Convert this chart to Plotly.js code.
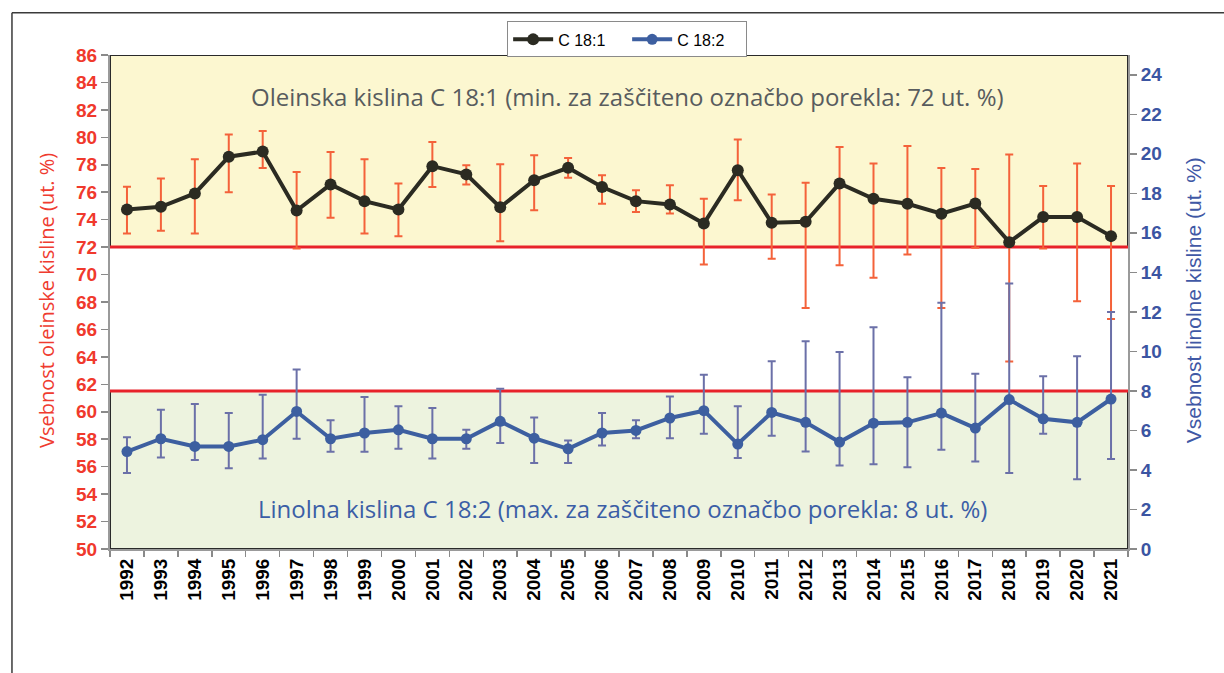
<!DOCTYPE html>
<html>
<head>
<meta charset="utf-8">
<script src="https://cdn.plot.ly/plotly-3.0.1.min.js"></script>
<style>html,body{margin:0;padding:0;background:#fff;}#chart{width:1224px;height:673px;}</style>
</head>
<body>
<div id="chart"></div>
<script>
const years = ['1992','1993','1994','1995','1996','1997','1998','1999','2000','2001','2002','2003','2004','2005','2006','2007','2008','2009','2010','2011','2012','2013','2014','2015','2016','2017','2018','2019','2020','2021'];

const c181 = [74.74, 74.94, 75.91, 78.59, 78.96, 74.67, 76.57, 75.35, 74.74, 77.9, 77.3, 74.9, 76.88, 77.78, 76.38, 75.35, 75.1, 73.72, 77.6, 73.77, 73.85, 76.64, 75.52, 75.16, 74.43, 75.18, 72.36, 74.19, 74.19, 72.8];
const c181Max = [76.4, 77.0, 78.4, 80.2, 80.46, 77.47, 78.93, 78.4, 76.64, 79.66, 77.96, 78.03, 78.69, 78.49, 77.23, 76.15, 76.5, 75.52, 79.85, 75.84, 76.69, 79.3, 78.1, 79.37, 77.76, 77.69, 78.74, 76.45, 78.1, 76.45];
const c181Min = [72.99, 73.2, 73.0, 76.0, 77.76, 71.9, 74.14, 73.0, 72.8, 76.38, 76.57, 72.43, 74.69, 77.06, 75.16, 74.55, 74.45, 70.73, 75.42, 71.15, 67.57, 70.68, 69.76, 71.46, 67.57, 71.95, 63.67, 71.9, 68.05, 66.77];

const c182 = [4.93, 5.58, 5.19, 5.19, 5.53, 6.96, 5.58, 5.87, 6.03, 5.58, 5.58, 6.46, 5.61, 5.07, 5.87, 6.0, 6.63, 7.0, 5.31, 6.91, 6.41, 5.41, 6.37, 6.41, 6.88, 6.12, 7.56, 6.59, 6.41, 7.59];
const c182Max = [5.66, 7.05, 7.34, 6.88, 7.81, 9.08, 6.51, 7.69, 7.22, 7.13, 6.03, 8.11, 6.66, 5.49, 6.88, 6.51, 7.72, 8.82, 7.22, 9.5, 10.51, 9.97, 11.22, 8.69, 12.46, 8.87, 13.44, 8.74, 9.75, 12.0];
const c182Min = [3.84, 4.63, 4.51, 4.09, 4.58, 5.58, 4.92, 4.92, 5.07, 4.58, 5.07, 5.36, 4.35, 4.35, 5.24, 5.61, 5.61, 5.83, 4.6, 5.73, 4.93, 4.22, 4.29, 4.14, 5.02, 4.43, 3.84, 5.83, 3.53, 4.56];

const oleicLimit = 72;
const linoleicLimit = 8;
const leftTicks = [50,52,54,56,58,60,62,64,66,68,70,72,74,76,78,80,82,84,86];
const rightTicks = [0,2,4,6,8,10,12,14,16,18,20,22,24];

const upper = (hi, m) => hi.map((v, i) => +(v - m[i]).toFixed(3));
const lower = (lo, m) => lo.map((v, i) => +(m[i] - v).toFixed(3));

const traces = [
  {
    x: years, y: c181, name: 'C 18:1', type: 'scatter', mode: 'lines+markers',
    yaxis: 'y',
    line: {color: '#2b2b22', width: 4},
    marker: {color: '#2b2b22', size: 12},
    error_y: {type: 'data', symmetric: false, array: upper(c181Max, c181), arrayminus: lower(c181Min, c181),
              color: '#F4623A', thickness: 2, width: 4}
  },
  {
    x: years, y: c182, name: 'C 18:2', type: 'scatter', mode: 'lines+markers',
    yaxis: 'y2',
    line: {color: '#3d5fa0', width: 4},
    marker: {color: '#3d5fa0', size: 11},
    error_y: {type: 'data', symmetric: false, array: upper(c182Max, c182), arrayminus: lower(c182Min, c182),
              color: '#6B70A8', thickness: 2, width: 4}
  }
];

const layout = {
  width: 1224, height: 673,
  margin: {l: 110, r: 96, t: 55, b: 124},
  paper_bgcolor: '#ffffff', plot_bgcolor: '#ffffff',
  showlegend: true,
  legend: {orientation: 'h', x: 0.508, xanchor: 'center', y: 0.995, yanchor: 'bottom',
           bgcolor: '#ffffff', bordercolor: '#8a8a8a', borderwidth: 1,
           font: {family: 'Liberation Sans, Arial, sans-serif', size: 16, color: '#000'},
           entrywidth: 64, itemwidth: 40, tracegroupgap: 0},
  xaxis: {type: 'category', range: [-0.5, 29.5], showgrid: false, zeroline: false,
          showline: true, linecolor: '#9a9a9a', linewidth: 2, mirror: false,
          ticks: 'outside', tickson: 'boundaries', ticklen: 6, tickcolor: '#8a8a8a', tickwidth: 1.5,
          tickangle: -90,
          tickfont: {family: 'Liberation Sans, Arial, sans-serif', size: 19, color: '#000', weight: 'bold'}},
  yaxis: {range: [50, 86], tickvals: leftTicks, showgrid: false, zeroline: false,
          showline: true, linecolor: '#9a9a9a', linewidth: 2,
          ticks: 'outside', ticklen: 7, tickcolor: '#8a8a8a', tickwidth: 1.5,
          tickfont: {family: 'Liberation Sans, Arial, sans-serif', size: 19, color: '#F0392C', weight: 'bold'}},
  yaxis2: {range: [0, 25], tickvals: rightTicks, overlaying: 'y', side: 'right', showgrid: false, zeroline: false,
           showline: true, linecolor: '#9a9a9a', linewidth: 2,
           ticks: 'outside', ticklen: 7, tickcolor: '#8a8a8a', tickwidth: 1.5,
           tickfont: {family: 'Liberation Sans, Arial, sans-serif', size: 19, color: '#3b55a2', weight: 'bold'}},
  shapes: [
    {type: 'rect', layer: 'below', xref: 'paper', yref: 'y', x0: 0, x1: 1, y0: oleicLimit, y1: 86,
     fillcolor: '#FCF7D0', line: {color: '#2a2a2a', width: 2}},
    {type: 'rect', layer: 'below', xref: 'paper', yref: 'y2', x0: 0, x1: 1, y0: 0, y1: linoleicLimit,
     fillcolor: '#EDF3DF', line: {color: '#2a2a2a', width: 2}},
    {type: 'line', layer: 'below', xref: 'paper', yref: 'y', x0: 0, x1: 1, y0: oleicLimit, y1: oleicLimit,
     line: {color: '#E8222A', width: 3}},
    {type: 'line', layer: 'below', xref: 'paper', yref: 'y2', x0: 0, x1: 1, y0: linoleicLimit, y1: linoleicLimit,
     line: {color: '#E8222A', width: 3}},
    {type: 'line', xref: 'paper', yref: 'paper', x0: -0.0963, x1: 1.1, y0: 1.0857, y1: 1.0857,
     line: {color: '#3a3a3a', width: 1.5}},
    {type: 'line', xref: 'paper', yref: 'paper', x0: -0.0963, x1: -0.0963, y0: 1.0857, y1: -0.3,
     line: {color: '#3a3a3a', width: 1.5}}
  ],
  annotations: [
    {xref: 'paper', yref: 'paper', x: 0.508, y: 0.915, xanchor: 'center', yanchor: 'middle', showarrow: false,
     text: 'Oleinska kislina C 18:1 (min. za zaščiteno označbo porekla: 72 ut. %)',
     font: {family: 'Open Sans, Lato, sans-serif', size: 24, color: '#585c5e'}},
    {xref: 'paper', yref: 'paper', x: 0.503, y: 0.081, xanchor: 'center', yanchor: 'middle', showarrow: false,
     text: 'Linolna kislina C 18:2 (max. za zaščiteno označbo porekla: 8 ut. %)',
     font: {family: 'Open Sans, Lato, sans-serif', size: 24, color: '#3b5ea6'}},
    {xref: 'paper', yref: 'paper', x: -0.0629, y: 0.504, xanchor: 'center', yanchor: 'middle', showarrow: false,
     textangle: -90, text: 'Vsebnost oleinske kisline (ut. %)',
     font: {family: 'Open Sans, Lato, sans-serif', size: 20, color: '#EF3B2F'}},
    {xref: 'paper', yref: 'paper', x: 1.064, y: 0.504, xanchor: 'center', yanchor: 'middle', showarrow: false,
     textangle: -90, text: 'Vsebnost linolne kisline (ut. %)',
     font: {family: 'Liberation Sans, Arial, sans-serif', size: 21, color: '#4058a5'}}
  ]
};

Plotly.newPlot('chart', traces, layout, {displayModeBar: false, staticPlot: true});
</script>
</body>
</html>
